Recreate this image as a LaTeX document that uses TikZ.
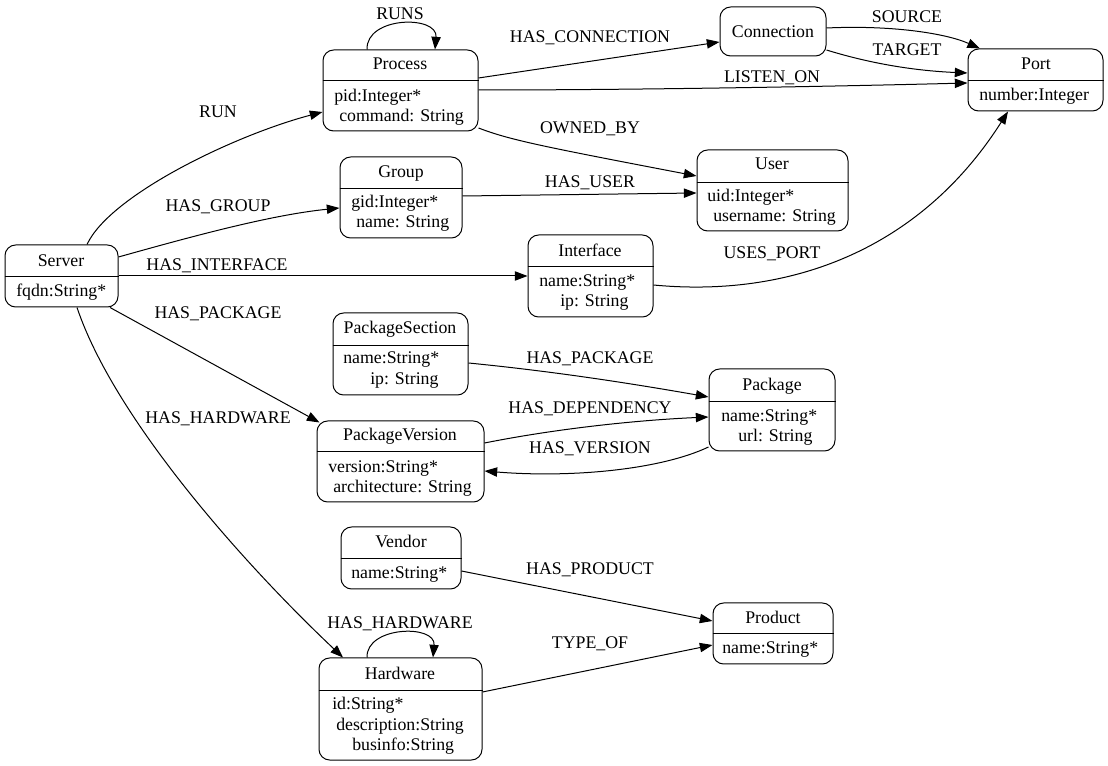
\documentclass[tikz,border=0pt]{standalone}
\usepackage{fontspec}
\setmainfont{Liberation Serif}
\usetikzlibrary{arrows.meta,fit,calc}
\newcommand\umlbox[6]{% name, left, top, right, bottom, divider
  \node[boxst, fit={(#2,#3) (#4,#5)}] (#1) {};
  \ifx\relax#6\relax\else
  \draw[line width=0.7pt] (#1.west |- 0,#6) -- (#1.east |- 0,#6);
  \fi
}
\begin{document}
\begin{tikzpicture}[x=0.75pt,y=-0.75pt,
  every node/.style={font=\fontsize{13.35pt}{16pt}\selectfont, inner sep=0pt},
  boxst/.style={draw, line width=0.75pt, rounded corners=8pt, inner sep=0pt},
  edge/.style={draw, line width=0.75pt, -{Triangle[length=9.5pt,width=7pt]}},
  lbl/.style={anchor=base},
  fld/.style={anchor=base west},
]
\useasboundingbox (0,0) rectangle (1108,766);
\fill[white] (0,0) rectangle (1108,766);

% ---------- boxes ----------
\umlbox{srv}{5}{245}{118}{307}{276}
\umlbox{proc}{323}{50}{478}{131}{80}
\umlbox{conn}{720}{7}{826}{56}{}
\umlbox{port}{968}{49}{1103}{111}{80}
\umlbox{grp}{340}{157}{462}{238}{188}
\umlbox{user}{697}{150}{848}{231}{182}
\umlbox{ifc}{528}{235}{653}{317}{266}
\umlbox{ps}{333}{313}{468}{395}{345}
\umlbox{pv}{317}{421}{484}{502}{451}
\umlbox{pkg}{709}{369}{835}{451}{401}
\umlbox{vend}{341}{527}{461}{589}{558}
\umlbox{prod}{713}{603}{833}{664}{633}
\umlbox{hw}{319}{658}{482}{760}{690}

% ---------- box texts ----------
\node[lbl] (srvT) at (61,267) {Server};
\node[fld] (srvF1) at (16,297) {fqdn:String*};

\node[lbl] (procT) at (400,70) {Process};
\node[fld] (procF1) at (334,102) {pid:Integer*};
\node[fld] (procF2) at (339,122) {command: String};

\node[lbl] (connT) at (773,38) {Connection};

\node[lbl] (portT) at (1036,70) {Port};
\node[fld] (portF1) at (979,101) {number:Integer};

\node[lbl] (grpT) at (401,178) {Group};
\node[fld] (grpF1) at (351,208) {gid:Integer*};
\node[fld] (grpF2) at (356,228) {name: String};

\node[lbl] (userT) at (772,170) {User};
\node[fld] (userF1) at (707,202) {uid:Integer*};
\node[fld] (userF2) at (713,222) {username: String};

\node[lbl] (ifcT) at (590,257) {Interface};
\node[fld] (ifcF1) at (539,287) {name:String*};
\node[fld] (ifcF2) at (560,307) {ip: String};

\node[lbl] (psT) at (400,334) {PackageSection};
\node[fld] (psF1) at (343,364) {name:String*};
\node[fld] (psF2) at (370,385) {ip: String};

\node[lbl] (pvT) at (400,441) {PackageVersion};
\node[fld] (pvF1) at (328,473) {version:String*};
\node[fld] (pvF2) at (333,493) {architecture: String};

\node[lbl] (pkgT) at (772,391) {Package};
\node[fld] (pkgF1) at (721,422) {name:String*};
\node[fld] (pkgF2) at (738,442) {url: String};

\node[lbl] (vendT) at (401,548) {Vendor};
\node[fld] (vendF1) at (351,579) {name:String*};

\node[lbl] (prodT) at (773,624) {Product};
\node[fld] (prodF1) at (722,654) {name:String*};

\node[lbl] (hwT) at (400,680) {Hardware};
\node[fld] (hwF1) at (332,710) {id:String*};
\node[fld] (hwF2) at (336,730) {description:String};
\node[fld] (hwF3) at (352,750) {businfo:String};

% ---------- edges ----------
\draw[edge] (srv.north -| 87,0) .. controls (110,195) and (235,135) .. (proc.west |- 0,112);
\draw[edge] (srv.east |- 0,257) .. controls (190,237) and (270,215) .. (grp.west |- 0,208);
\draw[edge] (srv.east |- 0,276) -- (ifc.west |- 0,276);
\draw[edge] (srv.south -| 110,0) -- ($(pv.north west)+(3,2)$);
\draw[edge] (srv.south -| 77,0) .. controls (115,420) and (245,565) .. (hw.north -| 343,0);
\draw[edge] (proc.north -| 367,0) .. controls (366,16) and (438,15) .. (proc.north -| 435,0);
\draw[edge] (proc.east |- 0,78) -- (conn.west |- 0,42);
\draw[edge] (proc.east |- 0,90) .. controls (650,90) and (850,86) .. (port.west |- 0,83);
\draw[edge] (proc.east |- 0,128) .. controls (510,140) and (540,146) .. (user.west |- 0,176);
\draw[edge] (grp.east |- 0,196) -- (user.west |- 0,193);
\draw[edge] (conn.east |- 0,28) .. controls (890,25) and (945,33) .. (port.north -| 980,0);
\draw[edge] (conn.east |- 0,50) .. controls (875,65) and (920,71) .. (port.west |- 0,73);
\draw[edge] (ifc.east |- 0,285) .. controls (790,298) and (920,250) .. (port.south -| 1008,0);
\draw[edge] (ps.east |- 0,363) .. controls (560,372) and (640,385) .. (pkg.west |- 0,397);
\draw[edge] (pv.east |- 0,443) .. controls (560,428) and (640,420) .. (pkg.west |- 0,417);
\draw[edge] (pkg.west |- 0,447) .. controls (660,470) and (570,478) .. (pv.east |- 0,471);
\draw[edge] (vend.east |- 0,571) -- (prod.west |- 0,621);
\draw[edge] (hw.north -| 367,0) .. controls (366,626) and (436,624) .. (hw.north -| 433,0);
\draw[edge] (hw.east |- 0,692) -- (prod.west |- 0,645);

% ---------- edge labels ----------
\node[lbl] (lRUNS) at (400,20) {RUNS};
\node[lbl] (lHC) at (590,43) {HAS\_CONNECTION};
\node[lbl] (lLO) at (772,83) {LISTEN\_ON};
\node[lbl] (lSRC) at (907,23) {SOURCE};
\node[lbl] (lTGT) at (907,56) {TARGET};
\node[lbl] (lRUN) at (218,118) {RUN};
\node[lbl] (lOB) at (590,134) {OWNED\_BY};
\node[lbl] (lHG) at (218,212) {HAS\_GROUP};
\node[lbl] (lHU) at (590,188) {HAS\_USER};
\node[lbl] (lHI) at (217,271) {HAS\_INTERFACE};
\node[lbl] (lUP) at (772,259) {USES\_PORT};
\node[lbl] (lHP1) at (218,319) {HAS\_PACKAGE};
\node[lbl] (lHP2) at (590,364) {HAS\_PACKAGE};
\node[lbl] (lHD) at (590,414) {HAS\_DEPENDENCY};
\node[lbl] (lHV) at (590,454) {HAS\_VERSION};
\node[lbl] (lHH1) at (218,424) {HAS\_HARDWARE};
\node[lbl] (lHPR) at (590,575) {HAS\_PRODUCT};
\node[lbl] (lHH2) at (400,629) {HAS\_HARDWARE};
\node[lbl] (lTO) at (590,649) {TYPE\_OF};
\end{tikzpicture}
\end{document}
